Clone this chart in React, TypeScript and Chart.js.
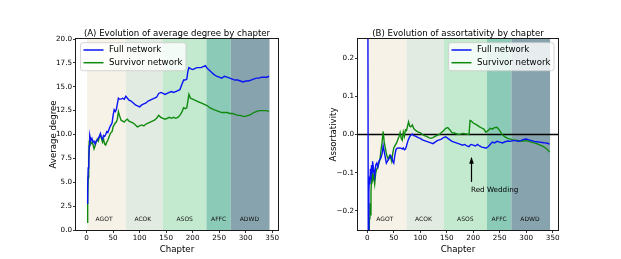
import React, { useEffect, useRef } from 'react';
import { Chart, registerables } from 'chart.js';

Chart.register(...registerables);

const FONT = "'DejaVu Sans', sans-serif";

// Books (background bands)
const BOOKS = ['AGOT', 'ACOK', 'ASOS', 'AFFC', 'ADWD'];
const BOOK_START = [1, 74, 144, 226, 272];
const BOOK_END = [74, 144, 226, 272, 345];
const BOOK_COLORS = ['#f6f2e7', '#e1ebe1', '#c3e9cf', '#8bcab7', '#87a3ad'];
const BOOK_LABEL_X = [33, 106, 185, 249, 307];

const SERIES_NAMES = ['Full network', 'Survivor network'];
const SERIES_COLORS = ['#0a14f5', '#0f8a0f'];

// Panel A: average degree
const DEG_CH = [1, 2, 3, 4, 5, 6, 8, 10, 12, 14, 16, 18, 20, 22, 24, 26, 28, 30, 32, 34, 36, 38, 40, 42, 44, 46, 48, 50, 52, 54, 56, 58, 60, 62, 65, 68, 71, 74, 77, 80, 84, 88, 92, 96, 100, 104, 108, 112, 116, 120, 124, 128, 132, 136, 140, 144, 148, 152, 156, 160, 164, 168, 172, 176, 180, 183, 186, 189, 191, 193, 196, 200, 204, 208, 212, 216, 220, 224, 228, 232, 236, 240, 245, 250, 255, 260, 265, 270, 275, 280, 285, 290, 295, 300, 305, 310, 315, 320, 325, 330, 335, 340, 344];
const DEG_FULL = [2.8, 4.5, 6.5, 6.8, 8.8, 9.9, 9.4, 9.6, 9.2, 9.3, 9.0, 9.3, 9.4, 9.6, 9.8, 10.1, 9.7, 9.5, 9.9, 9.8, 10.0, 10.3, 10.2, 10.5, 10.8, 11.0, 11.2, 12.0, 12.6, 12.4, 12.6, 13.2, 13.8, 13.7, 13.7, 13.8, 13.7, 14.0, 13.8, 13.6, 13.5, 13.3, 13.1, 13.0, 12.9, 13.1, 13.2, 13.3, 13.5, 13.6, 13.7, 13.8, 13.9, 14.3, 14.4, 14.3, 14.2, 14.3, 14.4, 14.5, 14.4, 14.5, 14.6, 14.7, 15.3, 15.7, 15.7, 15.8, 16.6, 17.0, 16.9, 16.8, 16.9, 17.0, 17.0, 17.0, 17.1, 17.2, 16.9, 16.7, 16.5, 16.3, 16.1, 16.0, 15.9, 16.1, 16.0, 15.9, 15.8, 15.7, 15.7, 15.6, 15.5, 15.6, 15.6, 15.7, 15.8, 15.9, 15.9, 16.0, 16.0, 16.0, 16.1];
const DEG_SURV = [0.8, 3.0, 5.5, 7.5, 9.3, 9.5, 9.0, 9.2, 9.0, 8.5, 8.8, 9.2, 9.5, 9.3, 9.7, 10.0, 9.6, 9.2, 9.5, 9.0, 8.9, 9.2, 9.4, 9.7, 10.0, 10.2, 10.3, 10.8, 11.0, 11.2, 11.3, 11.6, 12.4, 12.0, 11.5, 11.4, 11.3, 11.5, 11.6, 11.4, 11.3, 11.2, 11.0, 10.8, 10.9, 11.0, 10.9, 11.1, 11.2, 11.3, 11.4, 11.5, 11.7, 12.0, 11.8, 11.7, 11.6, 11.7, 11.8, 11.7, 11.8, 11.7, 11.8, 12.0, 12.4, 12.8, 12.7, 12.8, 13.5, 14.2, 13.8, 13.7, 13.6, 13.5, 13.4, 13.3, 13.2, 13.1, 13.0, 12.8, 12.7, 12.6, 12.5, 12.4, 12.3, 12.3, 12.3, 12.2, 12.2, 12.1, 12.0, 12.0, 11.9, 11.9, 12.0, 12.1, 12.3, 12.4, 12.5, 12.5, 12.5, 12.5, 12.4];
const DEG_TICKS = [0, 2.5, 5, 7.5, 10, 12.5, 15, 17.5, 20];

// Panel B: assortativity
const AS_CH = [1, 2, 3, 4, 5, 6, 7, 8, 9, 10, 12, 14, 16, 18, 20, 22, 24, 26, 28, 30, 32, 34, 36, 38, 40, 42, 44, 46, 48, 50, 52, 54, 56, 58, 60, 62, 64, 66, 68, 70, 72, 74, 76, 78, 80, 82, 85, 88, 92, 96, 100, 104, 108, 112, 116, 120, 124, 128, 132, 136, 140, 144, 148, 152, 156, 160, 164, 168, 172, 176, 180, 184, 188, 192, 194, 196, 200, 204, 208, 212, 216, 220, 224, 228, 232, 236, 240, 245, 250, 255, 260, 265, 270, 275, 280, 285, 290, 295, 300, 305, 310, 315, 320, 325, 330, 335, 340, 344];
const AS_FULL = [0.45, -0.40, -0.15, -0.11, -0.13, -0.09, -0.12, -0.08, -0.10, -0.07, -0.09, -0.11, -0.08, -0.075, -0.085, -0.07, -0.065, -0.06, -0.05, -0.03, -0.045, -0.06, -0.075, -0.07, -0.065, -0.06, -0.055, -0.06, -0.07, -0.075, -0.055, -0.04, -0.036, -0.035, -0.036, -0.035, -0.036, -0.038, -0.035, -0.04, -0.038, -0.03, -0.02, -0.012, -0.006, -0.002, 0.001, -0.003, -0.005, -0.008, -0.01, -0.014, -0.016, -0.018, -0.02, -0.022, -0.024, -0.02, -0.016, -0.014, -0.012, -0.008, -0.006, -0.01, -0.014, -0.018, -0.02, -0.022, -0.024, -0.026, -0.028, -0.026, -0.03, -0.032, -0.028, -0.026, -0.028, -0.03, -0.026, -0.03, -0.033, -0.034, -0.036, -0.032, -0.026, -0.02, -0.022, -0.018, -0.02, -0.022, -0.019, -0.017, -0.018, -0.016, -0.016, -0.018, -0.016, -0.013, -0.012, -0.014, -0.016, -0.018, -0.019, -0.02, -0.021, -0.022, -0.023, -0.025];
const AS_SURV = [null, null, -0.35, -0.22, -0.18, -0.21, -0.15, -0.12, -0.10, -0.12, -0.11, -0.13, -0.10, -0.09, -0.085, -0.075, -0.065, -0.04, -0.02, 0.008, -0.02, -0.035, -0.05, -0.06, -0.065, -0.055, -0.06, -0.07, -0.05, -0.035, -0.03, -0.025, -0.02, -0.012, -0.005, 0.005, -0.01, -0.015, 0.006, -0.005, 0.012, 0.01, 0.022, 0.033, 0.022, 0.02, 0.025, 0.015, 0.01, 0.006, 0.005, 0.0, -0.003, -0.005, -0.008, -0.01, -0.008, -0.005, -0.002, 0.0, 0.005, 0.01, 0.016, 0.018, 0.012, 0.005, 0.004, 0.002, 0.0, 0.001, 0.003, 0.002, 0.001, 0.0, 0.037, 0.036, 0.03, 0.027, 0.024, 0.02, 0.017, 0.014, 0.006, 0.01, 0.016, 0.014, 0.018, 0.019, 0.01, -0.001, -0.006, -0.01, -0.012, -0.014, -0.015, -0.016, -0.017, -0.017, -0.016, -0.018, -0.02, -0.022, -0.024, -0.027, -0.03, -0.034, -0.039, -0.046];
const AS_TICKS = [-0.2, -0.1, 0, 0.1, 0.2];

const X_TICKS = [0, 50, 100, 150, 200, 250, 300, 350];

// Annotation
const RW_TEXT = 'Red Wedding';
const RW_CHAPTER = 196;
const RW_HEAD = -0.058;
const RW_TAIL = -0.124;
const RW_TEXT_Y = -0.145;

type PanelCfg = {
  title: string;
  yLabel: string;
  yLabelX: number;
  legendRight: boolean;
  zero: boolean;
  annotate: boolean;
};

function decorPlugin(cfg: PanelCfg) {
  return {
    id: 'decor',
    beforeDatasetsDraw(chart: any) {
      const { ctx, chartArea: ca, scales } = chart;
      const x = scales.x;
      const y = scales.y;
      ctx.save();
      for (let i = 0; i < BOOKS.length; i++) {
        const x0 = x.getPixelForValue(BOOK_START[i]);
        const x1 = x.getPixelForValue(BOOK_END[i]);
        ctx.fillStyle = BOOK_COLORS[i];
        ctx.fillRect(x0, ca.top, x1 - x0, ca.bottom - ca.top);
      }
      ctx.fillStyle = '#111';
      ctx.font = `6px ${FONT}`;
      ctx.textAlign = 'center';
      ctx.textBaseline = 'middle';
      for (let i = 0; i < BOOKS.length; i++) {
        ctx.fillText(BOOKS[i], x.getPixelForValue(BOOK_LABEL_X[i]), ca.bottom - 11);
      }
      if (cfg.zero) {
        const yz = y.getPixelForValue(0);
        ctx.strokeStyle = '#000';
        ctx.lineWidth = 1.3;
        ctx.beginPath();
        ctx.moveTo(ca.left, yz);
        ctx.lineTo(ca.right, yz);
        ctx.stroke();
      }
      ctx.restore();
    },
    afterDraw(chart: any) {
      const { ctx, chartArea: ca, scales } = chart;
      const x = scales.x;
      const y = scales.y;
      ctx.save();
      // spines
      ctx.strokeStyle = '#1a1a1a';
      ctx.lineWidth = 1;
      ctx.strokeRect(ca.left - 0.5, ca.top - 0.5, ca.right - ca.left + 1, ca.bottom - ca.top + 1);

      // annotation
      if (cfg.annotate) {
        const ax = Math.round(x.getPixelForValue(RW_CHAPTER)) + 0.5;
        const yh = y.getPixelForValue(RW_HEAD);
        const yt = y.getPixelForValue(RW_TAIL);
        ctx.strokeStyle = '#000';
        ctx.fillStyle = '#000';
        ctx.lineWidth = 1.2;
        ctx.beginPath();
        ctx.moveTo(ax, yt);
        ctx.lineTo(ax, yh + 5);
        ctx.stroke();
        ctx.beginPath();
        ctx.moveTo(ax, yh);
        ctx.lineTo(ax - 2.3, yh + 7);
        ctx.lineTo(ax + 2.3, yh + 7);
        ctx.closePath();
        ctx.fill();
        ctx.font = `7.2px ${FONT}`;
        ctx.textAlign = 'left';
        ctx.textBaseline = 'middle';
        ctx.fillText(RW_TEXT, ax - 0.5, y.getPixelForValue(RW_TEXT_Y));
      }

      // legend
      const lw = 105.5;
      const lh = 28;
      const lx = cfg.legendRight ? ca.right - 4 - lw : ca.left + 4.5;
      const ly = ca.top + 3.7;
      ctx.beginPath();
      (ctx as any).roundRect(lx, ly, lw, lh, 2.5);
      ctx.fillStyle = 'rgba(255,255,255,0.8)';
      ctx.fill();
      ctx.strokeStyle = 'rgba(204,204,204,0.8)';
      ctx.lineWidth = 1;
      ctx.stroke();
      ctx.font = `8.6px ${FONT}`;
      ctx.textAlign = 'left';
      ctx.textBaseline = 'middle';
      for (let i = 0; i < SERIES_NAMES.length; i++) {
        const ry = ly + 7.3 + i * 12.7;
        ctx.strokeStyle = SERIES_COLORS[i];
        ctx.lineWidth = 1.5;
        ctx.beginPath();
        ctx.moveTo(lx + 3, ry);
        ctx.lineTo(lx + 23, ry);
        ctx.stroke();
        ctx.fillStyle = '#000';
        ctx.fillText(SERIES_NAMES[i], lx + 28.5, ry);
      }

      // title
      ctx.fillStyle = '#000';
      ctx.font = `8.6px ${FONT}`;
      ctx.textAlign = 'center';
      ctx.textBaseline = 'alphabetic';
      ctx.fillText(cfg.title, (ca.left + ca.right) / 2, 35.5);
      // x label
      ctx.fillText('Chapter', (ca.left + ca.right) / 2, 252.3);
      // y label
      ctx.translate(cfg.yLabelX, (ca.top + ca.bottom) / 2);
      ctx.rotate(-Math.PI / 2);
      ctx.fillText(cfg.yLabel, 0, 0);
      ctx.restore();
    },
  };
}

function makeConfig(
  ch: number[],
  full: (number | null)[],
  surv: (number | null)[],
  yMin: number,
  yMax: number,
  yTicks: number[],
  xMin: number,
  xMax: number,
  yAxisWidth: number,
  rightPad: number,
  cfg: PanelCfg
): any {
  const toPts = (vals: (number | null)[]) => ch.map((c, i) => ({ x: c, y: vals[i] }));
  const fmtY = (v: number) => {
    const vv = Math.abs(v) < 1e-9 ? 0 : v;
    return vv.toFixed(1).replace('-', '\u2212');
  };
  return {
    type: 'line',
    data: {
      datasets: [
        { label: SERIES_NAMES[0], data: toPts(full), borderColor: SERIES_COLORS[0], borderWidth: 1.4, pointRadius: 0, tension: 0, spanGaps: false },
        { label: SERIES_NAMES[1], data: toPts(surv), borderColor: SERIES_COLORS[1], borderWidth: 1.4, pointRadius: 0, tension: 0, spanGaps: false },
      ],
    },
    options: {
      responsive: false,
      animation: false,
      events: [],
      layout: { padding: { top: 39, right: rightPad, left: 0, bottom: 0 } },
      plugins: { legend: { display: false }, title: { display: false }, tooltip: { enabled: false } },
      scales: {
        x: {
          type: 'linear',
          min: xMin,
          max: xMax,
          afterFit: (s: any) => { s.height = 29; },
          afterBuildTicks: (s: any) => { s.ticks = X_TICKS.map((v) => ({ value: v })); },
          grid: { display: true, drawOnChartArea: false, drawTicks: true, tickLength: 3, color: '#000', lineWidth: 0.8 },
          border: { display: false },
          ticks: {
            color: '#000',
            padding: 1,
            maxRotation: 0,
            font: { family: FONT, size: 7.2 },
            callback: (v: number) => String(v),
          },
        },
        y: {
          type: 'linear',
          min: yMin,
          max: yMax,
          afterFit: (s: any) => { s.width = yAxisWidth; },
          afterBuildTicks: (s: any) => { s.ticks = yTicks.map((v) => ({ value: v })); },
          grid: { display: true, drawOnChartArea: false, drawTicks: true, tickLength: 3, color: '#000', lineWidth: 0.8 },
          border: { display: false },
          ticks: {
            color: '#000',
            padding: 1,
            font: { family: FONT, size: 7.2 },
            callback: (v: number) => fmtY(v),
          },
        },
      },
    },
    plugins: [decorPlugin(cfg)],
  };
}

function Panel(props: { left: number; width: number; config: () => any }) {
  const ref = useRef<HTMLCanvasElement | null>(null);
  useEffect(() => {
    if (!ref.current) return;
    const chart = new Chart(ref.current, props.config());
    return () => chart.destroy();
  }, []);
  return (
    <div style={{ position: 'absolute', left: props.left, top: 0, width: props.width, height: 259 }}>
      <canvas ref={ref} width={props.width} height={259} style={{ display: 'block' }} />
    </div>
  );
}

export default function App() {
  return (
    <div style={{ position: 'absolute', left: 0, top: 0, width: 621, height: 259, background: '#fff', overflow: 'hidden' }}>
      <Panel
        left={0}
        width={310}
        config={() =>
          makeConfig(DEG_CH, DEG_FULL, DEG_SURV, 0, 20, DEG_TICKS, -20, 361, 76, 32, {
            title: '(A) Evolution of average degree by chapter',
            yLabel: 'Average degree',
            yLabelX: 55.5,
            legendRight: false,
            zero: false,
            annotate: false,
          })
        }
      />
      <Panel
        left={310}
        width={311}
        config={() =>
          makeConfig(AS_CH, AS_FULL, AS_SURV, -0.25, 0.25, AS_TICKS, -17.5, 360, 48, 63, {
            title: '(B) Evolution of assortativity by chapter',
            yLabel: 'Assortativity',
            yLabelX: 26.3,
            legendRight: true,
            zero: true,
            annotate: true,
          })
        }
      />
    </div>
  );
}
